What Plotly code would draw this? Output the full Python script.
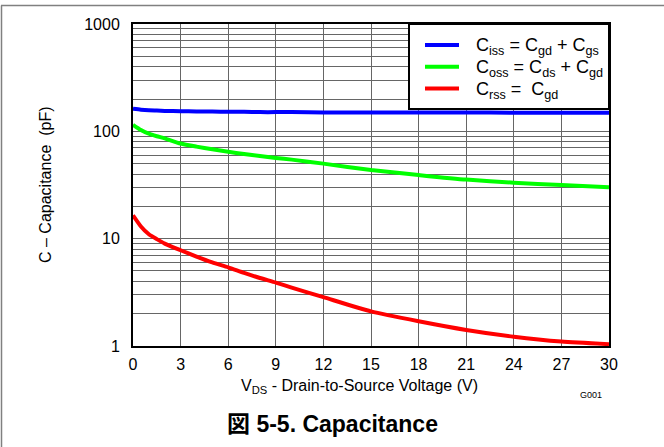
import plotly.graph_objects as go

# Drain-source voltage sweep (V)
vds = [0, 0.5, 1, 1.5, 2, 3, 4, 5, 6, 7, 8, 9, 10, 12, 15, 18, 21, 24, 27, 30]

# Capacitances (pF)
ciss = [162, 159, 157, 156, 155, 154, 153, 153, 152, 152, 151, 151, 151, 150, 150, 150, 150, 149, 149, 149]
coss = [115, 103, 95, 90, 86, 77, 72, 68, 64.5, 61.5, 59, 56.5, 54.5, 50, 43.6, 39.2, 35.5, 33.2, 31.6, 30.1]
crss = [16.5, 13, 11, 9.9, 9.0, 7.8, 6.8, 6.0, 5.4, 4.8, 4.3, 3.9, 3.5, 2.85, 2.1, 1.7, 1.41, 1.22, 1.10, 1.04]

x_ticks = [0, 3, 6, 9, 12, 15, 18, 21, 24, 27, 30]
y_ticks = [1, 10, 100, 1000]

names = [
    "C<sub>iss</sub> = C<sub>gd</sub> + C<sub>gs</sub>",
    "C<sub>oss</sub> = C<sub>ds</sub> + C<sub>gd</sub>",
    "C<sub>rss</sub> =  C<sub>gd</sub>",
]
colors = ["#0000ff", "#00ff00", "#ff0000"]

FONT = "Liberation Sans, Arial, Noto Sans CJK JP, sans-serif"
GRID = "#666666"

# Plot-area geometry in pixels
L, R, T, B = 133, 55, 24, 101
W, H = 664, 447
pw, ph = W - L - R, H - T - B


def px(xp):
    return (xp - L) / pw


def py(yp):
    return (H - B - yp) / ph


fig = go.Figure()
for name, vals, color in zip(names, [ciss, coss, crss], colors):
    fig.add_trace(go.Scatter(
        x=vds, y=vals, name=name, mode="lines", showlegend=False,
        line=dict(color=color, width=4, shape="spline", smoothing=0.6),
    ))

fig.update_xaxes(
    range=[0, 30], tickvals=x_ticks, ticktext=[str(t) for t in x_ticks],
    showgrid=True, gridcolor=GRID, gridwidth=1,
    showline=True, linecolor="black", linewidth=2, mirror=True,
    ticks="", zeroline=False, ticklabelstandoff=3,
    tickfont=dict(family=FONT, size=16, color="black"),
)
fig.update_yaxes(
    type="log", range=[0, 3], tickvals=y_ticks, ticktext=[str(t) for t in y_ticks],
    showgrid=True, gridcolor=GRID, gridwidth=1,
    minor=dict(dtick="D1", showgrid=True, gridcolor=GRID, gridwidth=1, ticks=""),
    showline=True, linecolor="black", linewidth=2, mirror=True,
    ticks="", zeroline=False, ticklabelstandoff=8,
    tickfont=dict(family=FONT, size=16, color="black"),
)

annotations = [
    dict(text="V<sub>DS</sub> - Drain-to-Source Voltage (V)", x=px(359), y=py(386),
         xanchor="center", yanchor="middle",
         font=dict(family=FONT, size=16, color="black")),
    dict(text="C – Capacitance&nbsp;&nbsp;(pF)", x=px(45), y=py(185), textangle=-90,
         xanchor="center", yanchor="middle",
         font=dict(family=FONT, size=16, color="black")),
    dict(text="G001", x=px(591), y=py(395),
         xanchor="center", yanchor="middle",
         font=dict(family=FONT, size=9, color="black")),
    dict(text="<b>図 5-5. Capacitance</b>", x=px(332), y=py(424),
         xanchor="center", yanchor="middle",
         font=dict(family=FONT, size=23, color="black")),
]

shapes = []
# Legend box
shapes.append(dict(type="rect", x0=px(409), x1=px(609), y0=py(24), y1=py(109),
                   fillcolor="white", line=dict(color="black", width=2)))
for i, (name, color) in enumerate(zip(names, colors)):
    yc = 45 + i * 21.7
    shapes.append(dict(type="line", x0=px(425), x1=px(459), y0=py(yc), y1=py(yc),
                       line=dict(color=color, width=4)))
    annotations.append(dict(text=name, x=px(474), y=py(yc + 2), xanchor="left",
                            yanchor="middle",
                            font=dict(family=FONT, size=18, color="black")))

# Outer figure frame (top and left edges)
shapes.append(dict(type="line", x0=px(1), x1=px(664), y0=py(5.5), y1=py(5.5),
                   line=dict(color="#808080", width=1.5)))
shapes.append(dict(type="line", x0=px(1.5), x1=px(1.5), y0=py(5.5), y1=py(447),
                   line=dict(color="#808080", width=1.5)))

for a in annotations:
    a.update(xref="paper", yref="paper", showarrow=False)
for s in shapes:
    s.update(xref="paper", yref="paper")

fig.update_layout(
    width=W, height=H,
    margin=dict(l=L, r=R, t=T, b=B),
    paper_bgcolor="white", plot_bgcolor="white",
    font=dict(family=FONT, color="black"),
    showlegend=False,
    annotations=annotations,
    shapes=shapes,
)

fig.write_html("out.html")
